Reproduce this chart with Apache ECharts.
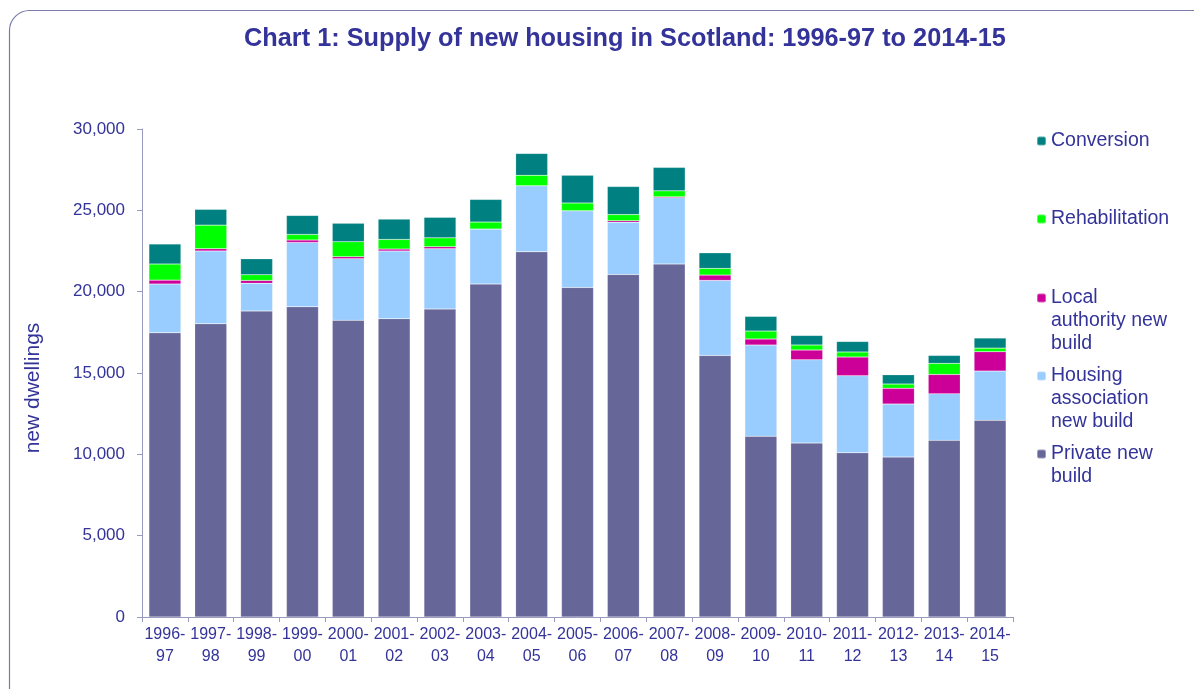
<!DOCTYPE html>
<html>
<head>
<meta charset="utf-8">
<script src="https://cdn.jsdelivr.net/npm/echarts@6/dist/echarts.min.js"></script>
<style>html,body{margin:0;padding:0;background:#fff}#chart{width:1194px;height:689px}</style>
</head>
<body>
<div id="chart"></div>
<script>
const categories = ['1996-\n97','1997-\n98','1998-\n99','1999-\n00','2000-\n01','2001-\n02','2002-\n03','2003-\n04','2004-\n05','2005-\n06','2006-\n07','2007-\n08','2008-\n09','2009-\n10','2010-\n11','2011-\n12','2012-\n13','2013-\n14','2014-\n15'];
const privateNew   = [17470,18030,18810,19070,18240,18340,18930,20470,22450,20260,21060,21700,16080,11110,10690,10100,9830,10860,12090];
const housingAssoc = [3000,4470,1700,3960,3780,4160,3710,3380,4060,4710,3200,4070,4610,5610,5120,4730,3260,2860,3030];
const localAuth    = [240,140,180,140,130,120,120,0,0,0,100,60,330,370,600,1150,970,1190,1190];
const rehab        = [990,1450,350,350,920,590,550,430,640,480,380,370,410,490,310,310,260,680,220];
const conversion   = [1230,970,980,1170,1130,1250,1260,1390,1350,1700,1720,1440,960,900,590,650,570,490,620];
const yTicks = [0,5000,10000,15000,20000,25000,30000];

const names = ['Private new build','Housing association new build','Local authority new build','Rehabilitation','Conversion'];
const legendLines = {
  'Conversion':['Conversion'],
  'Rehabilitation':['Rehabilitation'],
  'Local authority new build':['Local','authority new','build'],
  'Housing association new build':['Housing','association','new build'],
  'Private new build':['Private new','build']
};
const colors = ['#666699','#99CCFF','#CC0099','#00FF00','#008080'];
const values = [privateNew, housingAssoc, localAuth, rehab, conversion];
const txt = '#333399';
const LH = 23;
const FONT = 'Liberation Sans, Arial, sans-serif';

// firstLineY: screen y of the centre of the first text line
function legendFor(name, firstLineY) {
  const lines = legendLines[name];
  const n = lines.length;
  // prepend blank lines so the icon (centred on the block) sits on the first line
  const text = '\n'.repeat(n - 1) + lines.join('\n');
  const blockTop = firstLineY - (n - 1) * LH - LH / 2;
  return {
    top: blockTop - 5, left: 1031, orient: 'vertical',
    data: [name], itemWidth: 9, itemHeight: 9, selectedMode: false,
    formatter: () => text,
    textStyle: { color: txt, fontSize: 19.5, fontFamily: FONT, lineHeight: LH }
  };
}

const chart = echarts.init(document.getElementById('chart'));
chart.setOption({
  animation: false,
  color: colors,
  title: {
    text: 'Chart 1: Supply of new housing in Scotland: 1996-97 to 2014-15',
    left: 620, top: 22, textAlign: 'center',
    textStyle: { color: txt, fontSize: 25.3, fontWeight: 'bold', fontFamily: FONT }
  },
  graphic: [{
    type: 'rect', shape: { x: 9.5, y: 10.5, width: 1210, height: 710, r: 20 },
    style: { fill: 'none', stroke: '#7a7aa8', lineWidth: 1.2 }, silent: true, z: -1
  }],
  legend: [
    legendFor('Conversion', 141),
    legendFor('Rehabilitation', 219),
    legendFor('Local authority new build', 298),
    legendFor('Housing association new build', 376),
    legendFor('Private new build', 454)
  ],
  grid: { left: 142, right: 181, top: 129, bottom: 72 },
  xAxis: {
    type: 'category', data: categories,
    axisLine: { lineStyle: { color: '#9a9ac0' } },
    axisTick: { show: true, alignWithLabel: false, length: 5, lineStyle: { color: '#9a9ac0' } },
    axisLabel: { color: txt, fontSize: 16, lineHeight: 22, interval: 0, margin: 7, fontFamily: FONT }
  },
  yAxis: {
    type: 'value', min: 0, max: 30000, interval: 5000,
    name: 'new dwellings', nameLocation: 'middle', nameGap: 98, nameRotate: 90,
    nameTextStyle: { color: txt, fontSize: 21, fontFamily: FONT, padding: [0, 30, 0, 0] },
    axisLine: { show: true, lineStyle: { color: '#9a9ac0' } },
    axisTick: { show: true, length: 5, lineStyle: { color: '#9a9ac0' } },
    splitLine: { show: false },
    axisLabel: { color: txt, fontSize: 17, margin: 17, fontFamily: FONT,
      formatter: v => yTicks.includes(v) ? v.toLocaleString('en-GB') : '' }
  },
  series: names.map((n, i) => ({
    name: n, type: 'bar', stack: 'total', data: values[i],
    barWidth: 32,
    itemStyle: { color: colors[i], borderColor: 'rgba(255,255,255,0.35)', borderWidth: 0.5 }
  }))
});
</script>
</body>
</html>
